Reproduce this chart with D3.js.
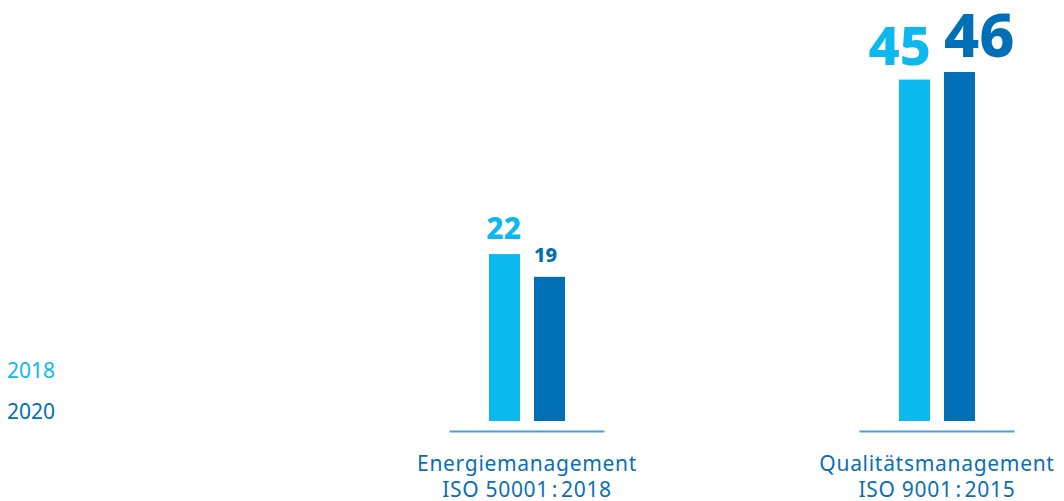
<!DOCTYPE html>
<html>
<head>
<meta charset="utf-8">
<script src="https://cdn.jsdelivr.net/npm/d3@7"></script>
<style>
  html, body { margin: 0; padding: 0; background: #fff; }
  svg { display: block; font-family: "Noto Sans", sans-serif; }
</style>
</head>
<body>
<svg id="chart" width="1064" height="501"></svg>
<script>
// Certified sites per management standard, 2018 vs 2020
const categories = ["Energiemanagement", "Qualitätsmanagement"];
const categorySubtitles = ["ISO 50001\u200A:\u200A2018", "ISO 9001\u200A:\u200A2015"];
const years = ["2018", "2020"];
const values2018 = [22, 45];
const values2020 = [19, 46];

const colors = { "2018": "#0cb9ee", "2020": "#006fb6" };
const valueFontSizes = { "2018": [30, 54], "2020": [20, 61] };

const svg = d3.select("#chart");

const x = d3.scalePoint().domain(categories).range([527, 937]);
const xInner = d3.scaleBand().domain(years).range([-38, 38]).paddingInner(0.311);
const y = d3.scaleLinear().domain([0, 46]).range([421, 72]);

const series = { "2018": values2018, "2020": values2020 };

const groups = svg.selectAll("g.group")
  .data(categories)
  .join("g")
  .attr("class", "group")
  .attr("transform", d => `translate(${x(d)},0)`);

// baseline rule under each pair
groups.append("line")
  .attr("x1", -77.5).attr("x2", 77.5)
  .attr("y1", y(0) + 10.5).attr("y2", y(0) + 10.5)
  .attr("stroke", "#4f9ed8")
  .attr("stroke-width", 2);

groups.each(function(cat, i) {
  const g = d3.select(this);
  years.forEach(yr => {
    const v = series[yr][i];
    g.append("rect")
      .attr("x", xInner(yr))
      .attr("width", xInner.bandwidth())
      .attr("y", y(v))
      .attr("height", y(0) - y(v))
      .attr("fill", colors[yr]);
    g.append("text")
      .attr("x", yr === "2018" ? xInner(yr) + xInner.bandwidth() + 1 : xInner(yr))
      .attr("y", y(v) - 15)
      .attr("text-anchor", yr === "2018" ? "end" : "start")
      .attr("font-weight", 800)
      .attr("font-size", valueFontSizes[yr][i])
      .attr("fill", colors[yr])
      .text(v);
  });
  const label = g.append("text")
    .attr("text-anchor", "middle")
    .attr("font-size", 21)
    .attr("letter-spacing", 0.7)
    .attr("fill", "#0a6fb5");
  label.append("tspan").attr("x", 0).attr("y", 471).text(cat);
  label.append("tspan").attr("x", 0).attr("y", 497).text(categorySubtitles[i]);
});

// legend
const legend = svg.append("g");
legend.selectAll("text")
  .data(years)
  .join("text")
  .attr("x", 7)
  .attr("y", (d, i) => 378 + i * 41)
  .attr("font-size", 21)
  .attr("fill", d => colors[d])
  .text(d => d);
</script>
</body>
</html>
